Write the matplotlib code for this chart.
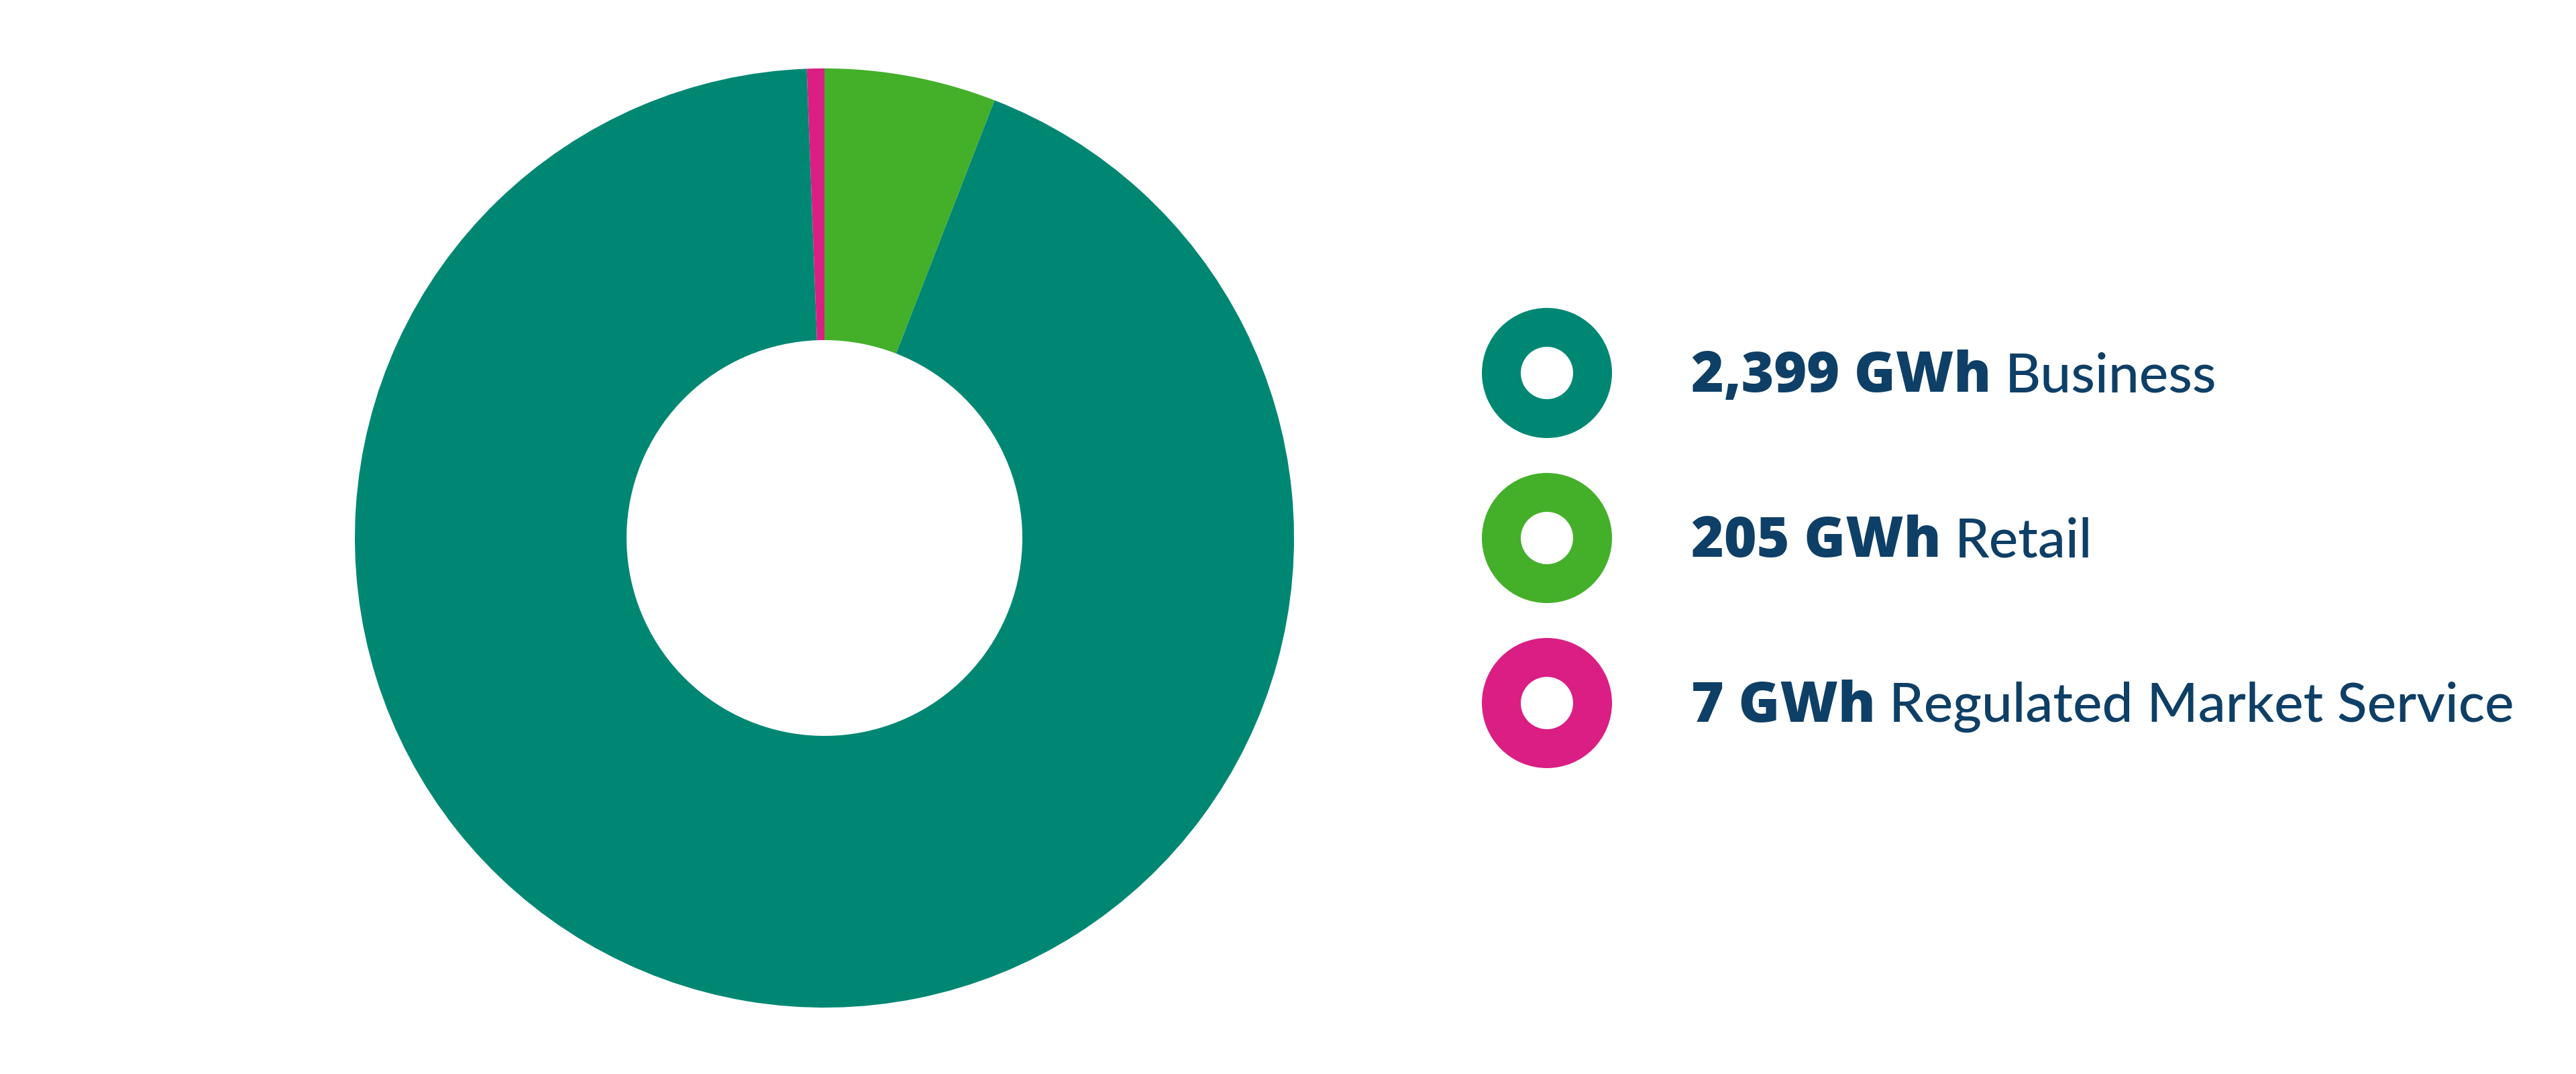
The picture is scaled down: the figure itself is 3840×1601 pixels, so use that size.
import matplotlib
matplotlib.use("Agg")
import matplotlib.pyplot as plt
from matplotlib.patches import Wedge

# slice shares as drawn in the picture (percent of the ring)
names = ["Retail", "Business", "Regulated Market Service"]
slice_share = [5.9, 93.5, 0.6]
colors = ["#44B02A", "#008773", "#DA1E84"]

# legend entries, top to bottom
legend_values = ["2,399 GWh", "205 GWh", "7 GWh"]
legend_names = ["Business", "Retail", "Regulated Market Service"]
legend_colors = ["#008773", "#44B02A", "#DA1E84"]
TEXT = "#0E3F66"

W, H = 3841, 1601
fig = plt.figure(figsize=(W / 100, H / 100), dpi=100)
ax = fig.add_axes([0, 0, 1, 1])

cx, cy, R, r_in = 1229, H - 802, 700, 295
ax.pie(slice_share, colors=colors, startangle=90, counterclock=False,
       center=(cx, cy), radius=R,
       wedgeprops=dict(width=R - r_in, linewidth=0))

ax.set_xlim(0, W); ax.set_ylim(0, H)
ax.set_aspect("auto")
ax.axis("off")

renderer = fig.canvas.get_renderer()
ring_x, ring_y0, step = 2306, H - 556, 246
for i, (val, nm, col) in enumerate(zip(legend_values, legend_names, legend_colors)):
    y = ring_y0 - i * step
    ax.add_patch(Wedge((ring_x, y), 97, 0, 360, width=58, color=col, lw=0))
    t = ax.text(2521, y - 28, val, fontsize=60, fontfamily="Open Sans",
                fontweight=800, color=TEXT, va="baseline", ha="left")
    x_end = ax.transData.inverted().transform(
        (t.get_window_extent(renderer).x1, 0))[0]
    ax.text(x_end + 20, y - 28, nm, fontsize=59, fontfamily="Lato",
            fontweight="medium", color=TEXT, va="baseline", ha="left")

fig.savefig("out.png", dpi=100, facecolor="white")
